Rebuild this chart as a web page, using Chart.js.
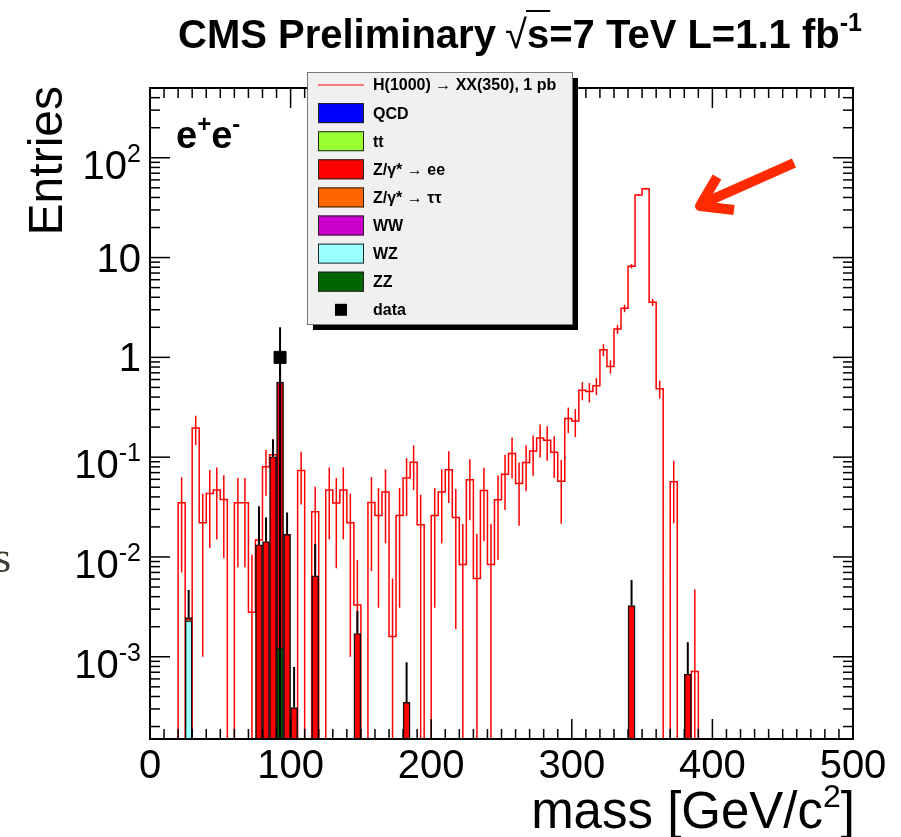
<!DOCTYPE html>
<html lang="en">
<head>
<meta charset="UTF-8">
<title>CMS Preliminary - e+e- mass</title>
<script src="https://cdn.jsdelivr.net/npm/chart.js"></script>
<style>
  body { margin: 0; background: #fff; }
  #wrap { position: relative; width: 901px; height: 837px; }
</style>
</head>
<body>
<div id="wrap"><canvas id="massChart" width="901" height="837"></canvas></div>
<script>
// bin low edges [GeV/c^2], 5 GeV bins
const binLow = [
  20, 25, 30, 35, 40, 45, 50, 55, 60, 65,
  70, 75, 80, 85, 90, 95, 100, 105, 110, 115,
  120, 125, 130, 135, 140, 145, 150, 155, 160, 165,
  170, 175, 180, 185, 190, 195, 200, 205, 210, 215,
  220, 225, 230, 235, 240, 245, 250, 255, 260, 265,
  270, 275, 280, 285, 290, 295, 300, 305, 310, 315,
  320, 325, 330, 335, 340, 345, 350, 355, 360, 365,
  370, 375, 380, 385
];
// H(1000) -> XX(350), 1 pb
const signalH = [
  0.035, 0, 0.196, 0.022, 0.0433, 0.047, 0.0377, 0, 0.0349, 0.0349,
  0.0028, 0.0148, 0.080, 0.106, 0, 0, 0, 0.0736, 0, 0.0284,
  0, 0.047, 0.0347, 0.047, 0.022, 0.0033, 0, 0.0352, 0.0261, 0.0447,
  0.0016, 0.0261, 0.0617, 0.089, 0.021, 0, 0.0261, 0.0447, 0.0747, 0.0249,
  0.0084, 0.0593, 0.0061, 0.0464, 0.0084, 0.0374, 0.0676, 0.109, 0.0545, 0.0885,
  0.115, 0.156, 0.148, 0.112, 0.0575, 0.244, 0.231, 0.468, 0.454, 0.52,
  1.19, 0.81, 1.92, 3.1, 8.19, 42.4, 49, 3.57, 0.486, 0,
  0.0567, 0, 0, 0.00071
];
const signalErr = [
  0.028, 0, 0.064, 0.021, 0.031, 0.032, 0.028, 0, 0.027, 0.027,
  0.0077, 0.014, 0.039, 0.045, 0, 0, 0, 0.040, 0, 0.022,
  0, 0.032, 0.027, 0.032, 0.021, 0.006, 0, 0.028, 0.023, 0.031,
  0.0045, 0.023, 0.036, 0.042, 0.021, 0, 0.023, 0.031, 0.040, 0.023,
  0.013, 0.036, 0.011, 0.032, 0.013, 0.028, 0.038, 0.048, 0.034, 0.043,
  0.050, 0.057, 0.056, 0.050, 0.036, 0.070, 0.072, 0.097, 0.10, 0.10,
  0.165, 0.123, 0.20, 0.265, 0.41, 1.0, 1.1, 0.3, 0.10, 0,
  0.035, 0, 0, 0.004
];

// background MC (bin centres)
const zeeMass = [27.5, 77.5, 82.5, 87.5, 92.5, 97.5, 102.5, 117.5, 147.5, 182.5, 342.5, 382.5];
const zeeVal  = [0.00016, 0.0132, 0.0143, 0.1006, 0.5658, 0.0169, 0.00031, 0.00646, 0.00171, 0.00035, 0.00326, 0.00067];
const mcErr   = [0.0022, 0.019, 0.0106, 0.05, 0.25, 0.011, 0.00048, 0.007, 0.00117, 0.00053, 0.00263, 0.00073];
const wzMass = [27.5];
const wzVal  = [0.00231];
const zzMass = [92.5];
const zzVal  = [0.00122];
const zzErr  = [0.0011];

// data
const dataMass = [92.5];
const dataVal  = [1];
const dataErr  = [1];

const xTicks = [0, 100, 200, 300, 400, 500];

const BIN_W = 5;
const EMPTY = 1e-6;   // empty bins fall below the axis
const FONT = '"Liberation Sans", Arial, Helvetica, sans-serif';
const SIG_RED = '#ff0000';

function pts(xs, ys) {
  return xs.map((m, i) => ({ x: m, y: ys[i] }));
}

const signalPts = [{ x: binLow[0], y: EMPTY }]
  .concat(binLow.map((lo, i) => ({ x: lo, y: signalH[i] || EMPTY })))
  .concat([{ x: binLow[binLow.length - 1] + BIN_W, y: EMPTY }]);

function mcSet(label, color, xs, ys) {
  return {
    type: 'bar', label: label, data: pts(xs, ys),
    backgroundColor: color, borderColor: '#111', borderWidth: 1.5,
    barPercentage: 1, categoryPercentage: 1, order: 1
  };
}

// stacked bottom -> top
const mcSets = [
  mcSet('ZZ', '#006600', zzMass, zzVal),
  mcSet('WZ', '#99ffff', wzMass, wzVal),
  mcSet('WW', '#cc00cc', [], []),
  mcSet('Z/\u03b3* \u2192 \u03c4\u03c4', '#ff6600', [], []),
  mcSet('Z/\u03b3* \u2192 ee', '#ff0000', zeeMass, zeeVal),
  mcSet('tt', '#99ff33', [], []),
  mcSet('QCD', '#0000ff', [], [])
];

const legendRows = ['QCD', 'tt', 'Z/\u03b3* \u2192 ee', 'Z/\u03b3* \u2192 \u03c4\u03c4', 'WW', 'WZ', 'ZZ'];

function line(ctx, x1, y1, x2, y2) {
  ctx.beginPath(); ctx.moveTo(x1, y1); ctx.lineTo(x2, y2); ctx.stroke();
}

// text with superscript parts: [[text, isSup], ...]
function richText(ctx, parts, x, y, size, bold, align) {
  const w = bold ? 'bold ' : '';
  let total = 0;
  parts.forEach(p => {
    ctx.font = w + (p[1] ? Math.round(size * 0.62) : size) + 'px ' + FONT;
    total += ctx.measureText(p[0]).width;
  });
  let cx = align === 'right' ? x - total : x;
  ctx.textAlign = 'left';
  ctx.textBaseline = 'alphabetic';
  parts.forEach(p => {
    ctx.font = w + (p[1] ? Math.round(size * 0.62) : size) + 'px ' + FONT;
    ctx.fillText(p[0], cx, p[1] ? y - size * 0.42 : y);
    cx += ctx.measureText(p[0]).width;
  });
  return total;
}

const errorBars = {
  id: 'errorBars',
  afterDatasetsDraw(chart) {
    const { ctx, chartArea: a, scales: { x, y } } = chart;
    const yp = v => v > 0 ? Math.min(y.getPixelForValue(v), a.bottom) : a.bottom;
    ctx.save();
    ctx.beginPath();
    ctx.rect(a.left, a.top, a.right - a.left, a.bottom - a.top);
    ctx.clip();

    // signal stat errors
    ctx.strokeStyle = SIG_RED;
    ctx.lineWidth = 1.5;
    binLow.forEach((lo, i) => {
      const v = signalH[i], e = signalErr[i];
      if (!v || !e) return;
      const px = x.getPixelForValue(lo + BIN_W / 2);
      line(ctx, px, yp(v - e), px, yp(v + e));
    });

    // MC stat errors on top of the stack
    ctx.strokeStyle = '#000';
    ctx.lineWidth = 2;
    zeeMass.forEach((m, i) => {
      let tot = zeeVal[i];
      wzMass.forEach((w, j) => { if (w === m) tot += wzVal[j]; });
      zzMass.forEach((z, j) => { if (z === m) tot += zzVal[j]; });
      const px = x.getPixelForValue(m);
      line(ctx, px, yp(tot), px, yp(tot + mcErr[i]));
    });
    zzMass.forEach((m, i) => {
      const px = x.getPixelForValue(m);
      line(ctx, px, yp(zzVal[i] - zzErr[i]), px, yp(zzVal[i] + zzErr[i]));
    });

    // data errors
    dataMass.forEach((m, i) => {
      const px = x.getPixelForValue(m);
      line(ctx, px, yp(dataVal[i] - dataErr[i]), px, yp(dataVal[i] + dataErr[i]));
    });
    ctx.restore();
  }
};

const rootFrame = {
  id: 'rootFrame',
  afterDraw(chart) {
    const { ctx, chartArea: a, scales: { x, y } } = chart;
    ctx.save();
    ctx.fillStyle = '#000';
    ctx.strokeStyle = '#000';

    // ticks inside the frame
    ctx.lineWidth = 1.5;
    x.ticks.forEach(t => {
      const px = x.getPixelForValue(t.value);
      const len = xTicks.includes(t.value) ? 20 : 10;
      line(ctx, px, a.bottom, px, a.bottom - len);
      line(ctx, px, a.top, px, a.top + len);
    });
    y.ticks.forEach(t => {
      const e = Math.floor(Math.log10(t.value) + 1e-9);
      const sig = t.value / Math.pow(10, e);
      if (Math.abs(sig - Math.round(sig)) > 1e-6) return;
      if (t.value < y.min || t.value > y.max) return;
      const py = y.getPixelForValue(t.value);
      const len = Math.round(sig) === 1 ? 20 : 10;
      line(ctx, a.left, py, a.left + len, py);
      line(ctx, a.right, py, a.right - len, py);
      if (Math.round(sig) === 1) {
        if (e === 0) richText(ctx, [['1', false]], 141, py + 14, 40, false, 'right');
        else if (e === 1) richText(ctx, [['10', false]], 141, py + 14, 40, false, 'right');
        else richText(ctx, [['10', false], [String(e), true]], 141, py + 21, 40, false, 'right');
      }
    });

    // frame
    ctx.lineWidth = 2;
    ctx.strokeRect(a.left, a.top, a.right - a.left, a.bottom - a.top);

    // axis titles
    richText(ctx, [['mass [GeV/c', false], ['2', true], [']', false]], a.right + 2, 828, 51, false, 'right');
    ctx.save();
    ctx.translate(62, a.top - 2);
    ctx.rotate(-Math.PI / 2);
    richText(ctx, [['Entries', false]], 0, 0, 48, false, 'right');
    ctx.restore();

    // channel label
    richText(ctx, [['e', false], ['+', true], ['e', false], ['-', true]], 176, 148, 38, true, 'left');

    // title
    let tx = 178;
    const ty = 48;
    tx += richText(ctx, [['CMS Preliminary ', false]], tx, ty, 40, true, 'left');
    ctx.font = '40px ' + FONT;
    ctx.fillText('\u221a', tx - 2, ty);
    const rw = ctx.measureText('\u221a').width;
    tx += rw - 2;
    ctx.font = 'bold 40px ' + FONT;
    const sw = ctx.measureText('s').width;
    ctx.lineWidth = 2;
    line(ctx, tx - 1, ty - 37, tx + sw + 1, ty - 37);
    richText(ctx, [['s=7 TeV L=1.1 fb', false], ['-1', true]], tx, ty, 40, true, 'left');

    // legend box
    const L = { x: 307, y: 72, w: 265, h: 252 };
    ctx.fillStyle = '#000';
    ctx.fillRect(L.x + 6, L.y + 6, L.w, L.h);
    ctx.fillStyle = '#f0f0f0';
    ctx.fillRect(L.x, L.y, L.w, L.h);
    ctx.strokeStyle = '#777';
    ctx.lineWidth = 1;
    ctx.strokeRect(L.x + 0.5, L.y + 0.5, L.w, L.h);

    const rowY = i => 85 + i * 28.1;
    ctx.textAlign = 'left';
    ctx.textBaseline = 'middle';
    ctx.font = 'bold 16px ' + FONT;
    // signal row
    ctx.strokeStyle = SIG_RED;
    ctx.lineWidth = 1;
    line(ctx, 318, rowY(0), 364, rowY(0));
    ctx.fillStyle = '#000';
    ctx.fillText(chart.data.datasets[0].label, 373, rowY(0) + 1);
    legendRows.forEach((name, k) => {
      const ds = chart.data.datasets.find(d => d.label === name);
      const yy = rowY(k + 1);
      ctx.fillStyle = ds.backgroundColor;
      ctx.fillRect(318, yy - 10, 46, 20);
      ctx.strokeStyle = '#222';
      ctx.lineWidth = 1;
      ctx.strokeRect(318.5, yy - 9.5, 45, 19);
      ctx.fillStyle = '#000';
      ctx.font = 'bold 16px ' + FONT;
      ctx.fillText(name, 373, yy + 1);
    });
    const dy = rowY(8);
    ctx.fillRect(335, dy - 6, 12, 12);
    ctx.fillText('data', 373, dy + 1);

    // annotation arrow
    ctx.strokeStyle = '#ff2a00';
    ctx.lineWidth = 10;
    ctx.lineCap = 'butt';
    ctx.lineJoin = 'round';
    line(ctx, 794, 163, 704, 203);
    ctx.beginPath();
    ctx.moveTo(717, 177);
    ctx.lineTo(700, 206);
    ctx.lineTo(734, 210);
    ctx.stroke();

    // leftover slide text at the edge
    ctx.fillStyle = '#3b3b30';
    ctx.font = '44px "Liberation Serif", "DejaVu Serif", serif';
    ctx.textBaseline = 'alphabetic';
    ctx.fillText('s', -6, 572);
    ctx.restore();
  }
};

new Chart(document.getElementById('massChart'), {
  type: 'bar',
  data: {
    datasets: [
      {
        type: 'line', label: 'H(1000) \u2192 XX(350), 1 pb', data: signalPts,
        stepped: true, borderColor: SIG_RED, borderWidth: 1.5, pointRadius: 0,
        fill: false, stack: 'signal', order: 2
      },
      ...mcSets,
      {
        type: 'scatter', label: 'data', data: pts(dataMass, dataVal),
        pointStyle: 'rect', pointRadius: 8.5, backgroundColor: '#000', borderColor: '#000',
        stack: 'data', order: 0
      }
    ]
  },
  options: {
    responsive: false,
    animation: false,
    devicePixelRatio: 1,
    layout: { padding: { top: 88, right: 48, left: 0, bottom: 0 } },
    plugins: { legend: { display: false }, tooltip: { enabled: false }, title: { display: false } },
    scales: {
      x: {
        type: 'linear', min: 0, max: 500, stacked: true, offset: false,
        grid: { display: false, drawTicks: false, offset: false }, border: { display: false },
        ticks: {
          stepSize: 10, autoSkip: false, maxRotation: 0, minRotation: 0, padding: 4,
          color: '#000', font: { family: FONT, size: 40 },
          callback: v => xTicks.includes(v) ? String(v) : ''
        },
        afterFit: s => { s.height = 98; }
      },
      y: {
        type: 'logarithmic', min: 1.5e-4, max: 500, stacked: true,
        grid: { display: false, drawTicks: false }, border: { display: false },
        ticks: { display: false },
        afterFit: s => { s.width = 150; }
      }
    }
  },
  plugins: [errorBars, rootFrame]
});
</script>
</body>
</html>
